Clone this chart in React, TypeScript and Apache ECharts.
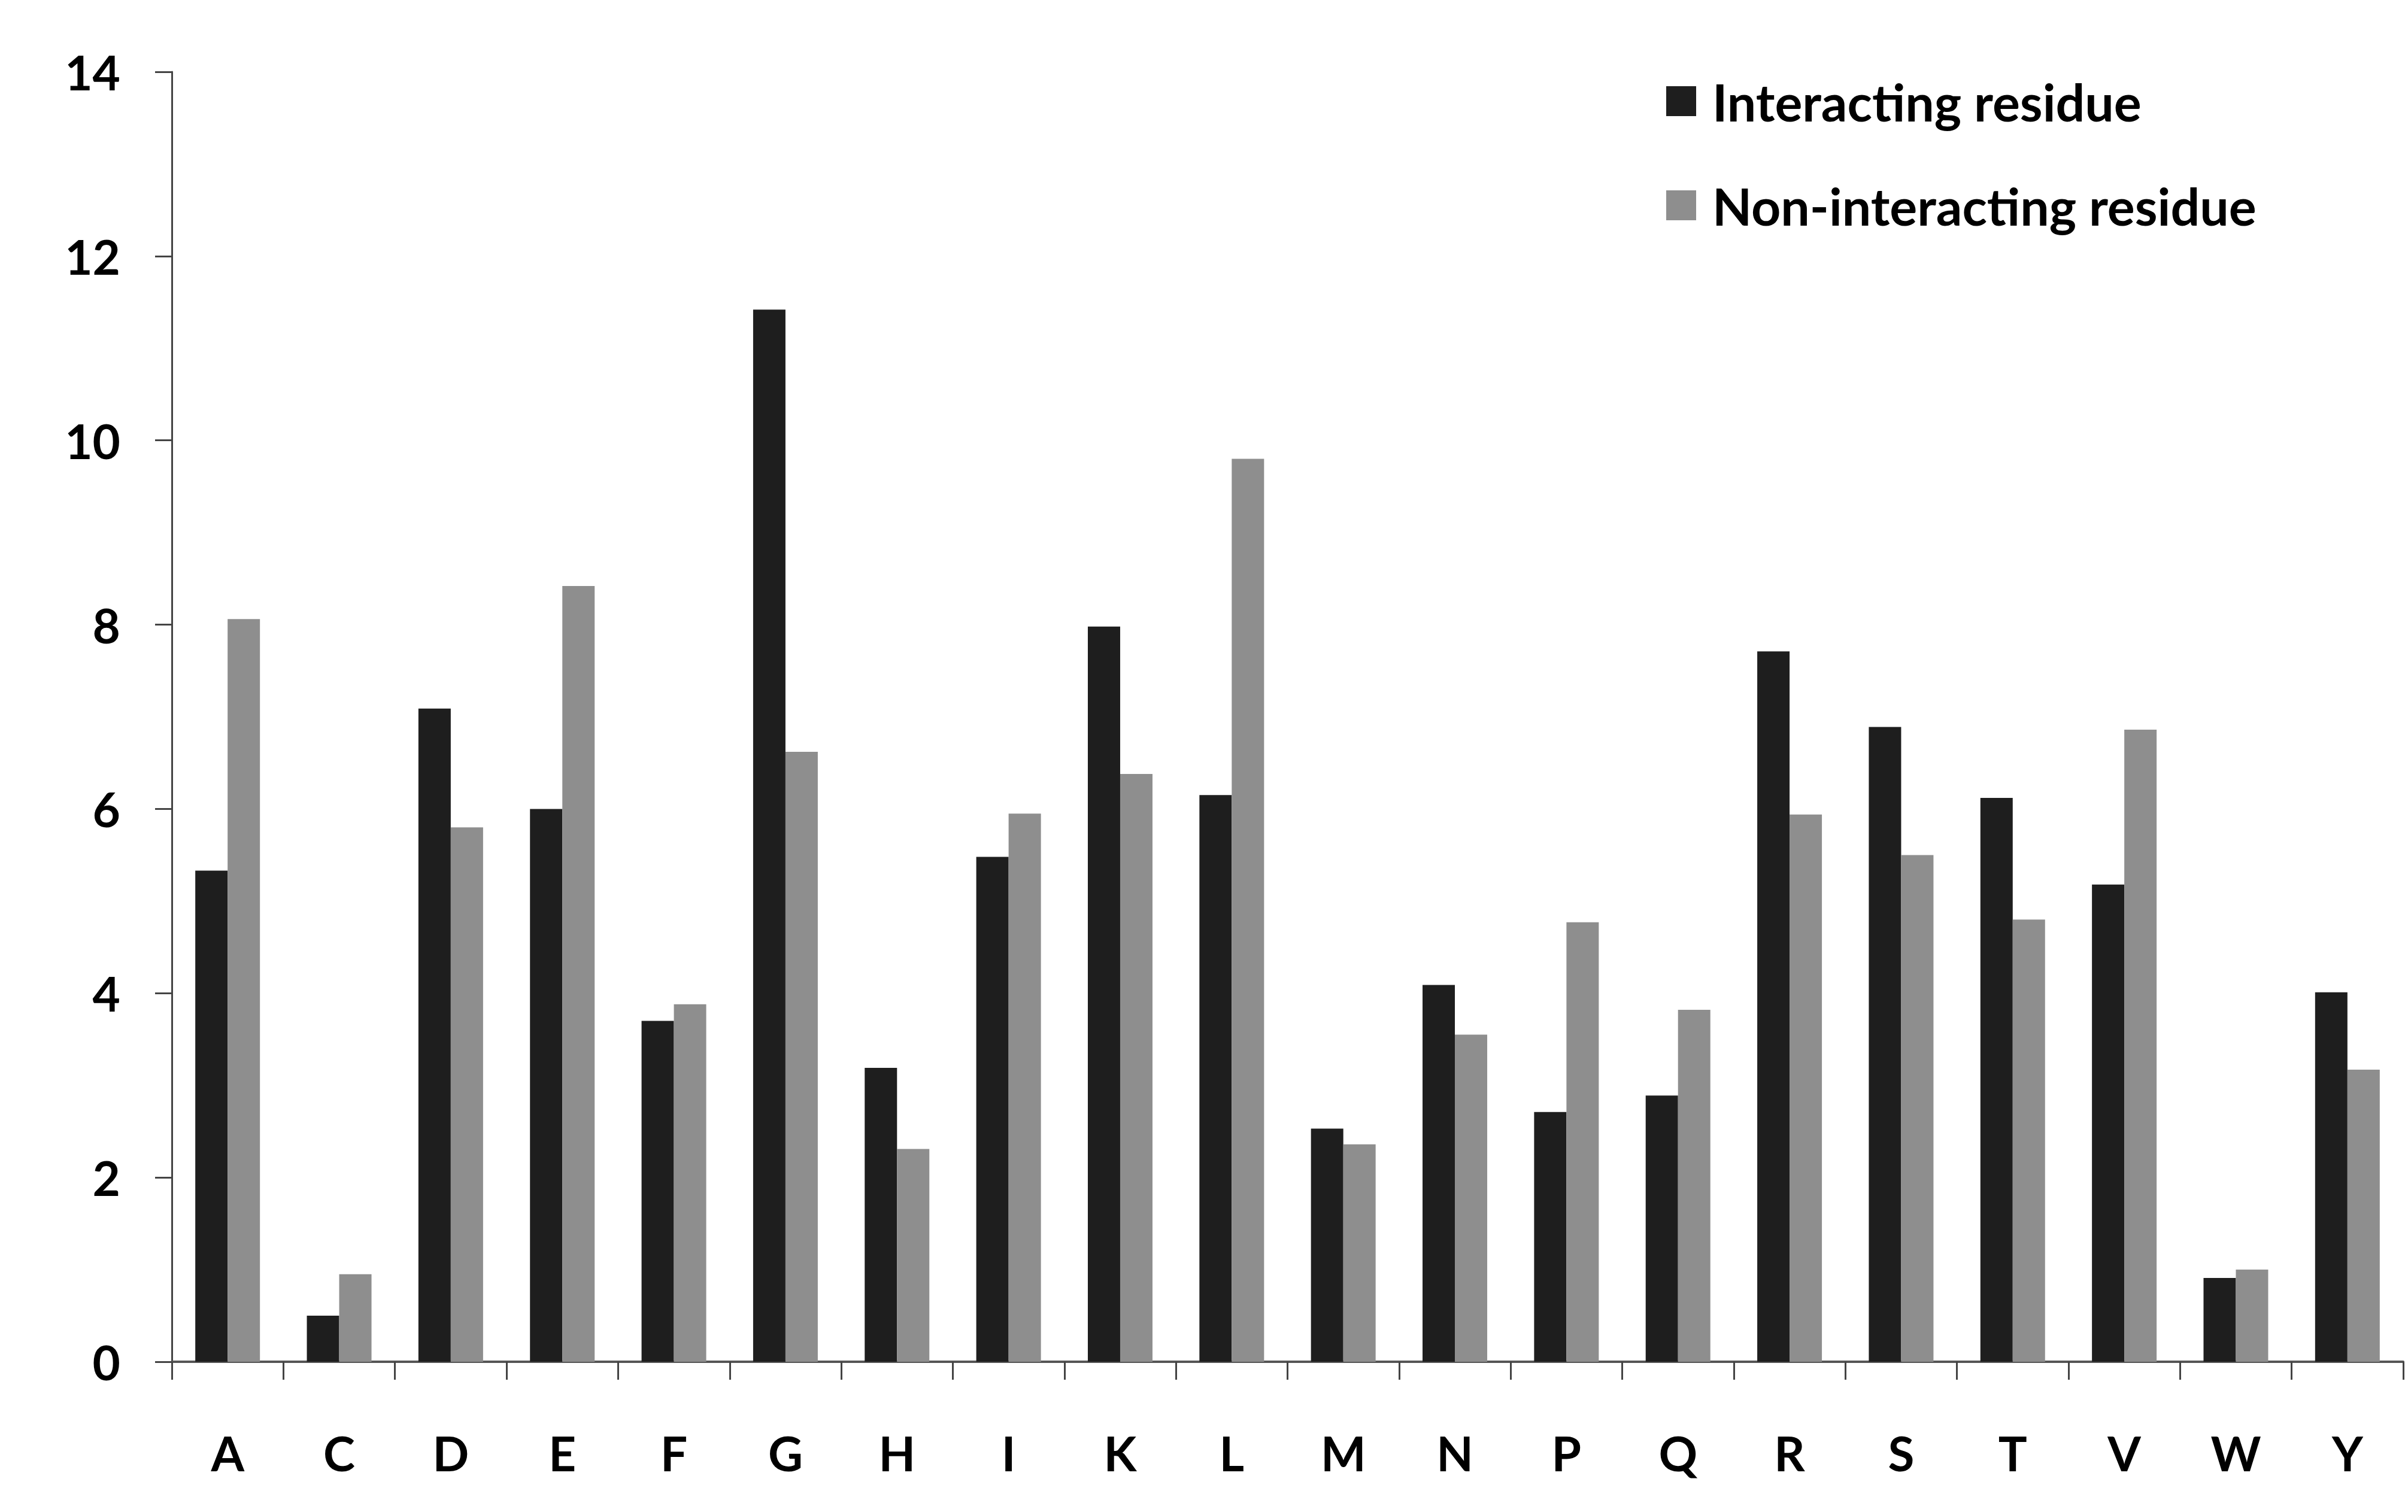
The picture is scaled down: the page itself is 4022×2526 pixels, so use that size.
import React, { useEffect, useRef } from "react";
import * as echarts from "echarts";

const categories = ["A", "C", "D", "E", "F", "G", "H", "I", "K", "L", "M", "N", "P", "Q", "R", "S", "T", "V", "W", "Y"];
const interacting = [5.33, 0.5, 7.09, 6.0, 3.7, 11.42, 3.19, 5.48, 7.98, 6.15, 2.53, 4.09, 2.71, 2.89, 7.71, 6.89, 6.12, 5.18, 0.91, 4.01];
const nonInteracting = [8.06, 0.95, 5.8, 8.42, 3.88, 6.62, 2.31, 5.95, 6.38, 9.8, 2.36, 3.55, 4.77, 3.82, 5.94, 5.5, 4.8, 6.86, 1.0, 3.17];
const seriesNames = ["Interacting residue", "Non-interacting residue"];

const FONT = "Lato";

export default function App() {
  const ref = useRef<HTMLDivElement>(null);
  useEffect(() => {
    if (!ref.current) return;
    const chart = echarts.init(ref.current, null, { renderer: "svg" });
    chart.setOption({
      animation: false,
      backgroundColor: "#ffffff",
      grid: { left: 287, right: 8, top: 120, bottom: 251, containLabel: false },
      legend: {
        orient: "vertical",
        left: 2778,
        top: 121,
        itemWidth: 50,
        itemHeight: 50,
        itemGap: 88,
        icon: "rect",
        data: seriesNames,
        textStyle: {
          fontFamily: FONT,
          fontWeight: "bold",
          fontSize: 86,
          color: "#000",
          lineHeight: 86,
          padding: [0, 0, 0, 22],
        },
      },
      xAxis: {
        type: "category",
        data: categories,
        axisLine: { lineStyle: { color: "#555", width: 4 } },
        axisTick: { show: true, length: 30, lineStyle: { color: "#444", width: 3 } },
        axisLabel: {
          fontFamily: FONT,
          fontWeight: "bold",
          fontSize: 80,
          color: "#000",
          margin: 112,
        },
        splitLine: { show: false },
      },
      yAxis: {
        type: "value",
        min: 0,
        max: 14,
        interval: 2,
        axisLine: { show: true, lineStyle: { color: "#444", width: 3 } },
        axisTick: { show: true, length: 28, lineStyle: { color: "#444", width: 3 } },
        axisLabel: {
          fontFamily: FONT,
          fontWeight: "bold",
          fontSize: 80,
          color: "#000",
          margin: 86,
        },
        splitLine: { show: false },
      },
      series: [
        {
          name: seriesNames[0],
          type: "bar",
          data: interacting,
          barWidth: 54,
          barGap: "0%",
          itemStyle: { color: "#1e1e1e" },
        },
        {
          name: seriesNames[1],
          type: "bar",
          data: nonInteracting,
          barWidth: 54,
          barGap: "0%",
          itemStyle: { color: "#8e8e8e" },
        },
      ],
    });
    return () => chart.dispose();
  }, []);
  return (
    <div
      ref={ref}
      style={{ position: "fixed", left: 0, top: 0, width: 4022, height: 2526, background: "#fff" }}
    />
  );
}
